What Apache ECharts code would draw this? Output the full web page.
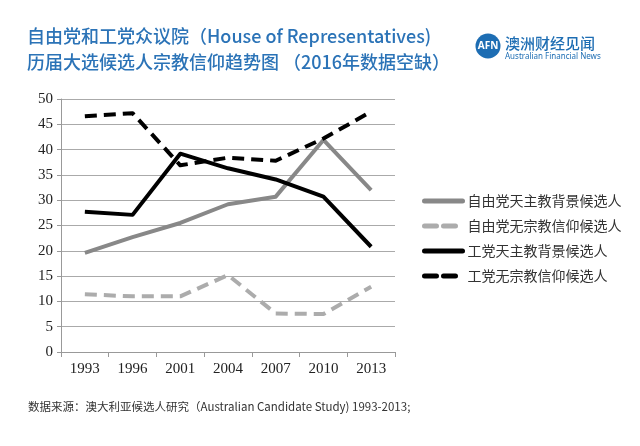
<!DOCTYPE html>
<html>
<head>
<meta charset="utf-8">
<script src="https://cdn.jsdelivr.net/npm/echarts@6/dist/echarts.min.js"></script>
<style>
  html, body { margin: 0; padding: 0; background: #fff; }
  #main { width: 640px; height: 446px; }
</style>
</head>
<body>
<div id="main"></div>
<script>
// 年份
var years = ['1993', '1996', '2001', '2004', '2007', '2010', '2013'];
// 各系列数据 (%)
var libCatholic = [19.6, 22.7, 25.5, 29.2, 30.7, 41.9, 32.0];
var libNoReligion = [11.4, 11.0, 11.0, 15.2, 7.6, 7.5, 12.9];
var labCatholic = [27.7, 27.1, 39.2, 36.3, 34.1, 30.7, 20.8];
var labNoReligion = [46.6, 47.2, 36.9, 38.4, 37.8, 42.2, 47.5];
var seriesNames = ['自由党天主教背景候选人', '自由党无宗教信仰候选人', '工党天主教背景候选人', '工党无宗教信仰候选人'];

var cjk = '"Noto Sans CJK SC", "Noto Sans", sans-serif';
var serif = '"Liberation Serif", "DejaVu Serif", serif';
var dash = [12, 7];

function mkLine(name, data, color, dashed) {
    return {
        name: name,
        type: 'line',
        data: data,
        symbol: 'none',
        smooth: false,
        lineStyle: { color: color, width: 4, type: dashed ? dash : 'solid', cap: 'butt', join: 'round' },
        itemStyle: { color: color },
        emphasis: { disabled: true }
    };
}

var chart = echarts.init(document.getElementById('main'));
chart.setOption({
    backgroundColor: '#fff',
    animation: false,
    title: {
        text: '自由党和工党众议院（House of Representatives)\n历届大选候选人宗教信仰趋势图 （2016年数据空缺）',
        left: 22,
        top: 18,
        textStyle: { fontFamily: cjk, fontSize: 18, fontWeight: 500, color: '#2b73b7', lineHeight: 26 }
    },
    grid: { left: 61, right: 245, top: 99, bottom: 94 },
    legend: {
        orient: 'vertical',
        left: 417,
        top: 189,
        itemWidth: 38,
        itemHeight: 14,
        itemGap: 11,
        data: seriesNames,
        itemStyle: { opacity: 0 },
        lineStyle: { width: 5, cap: 'round' },
        textStyle: { fontFamily: cjk, fontSize: 14, color: '#333' }
    },
    xAxis: {
        type: 'category',
        data: years,
        boundaryGap: true,
        axisLine: { lineStyle: { color: '#999', width: 1 } },
        axisTick: { show: true, length: 5, lineStyle: { color: '#999' } },
        axisLabel: { fontFamily: serif, fontSize: 15, color: '#222', margin: 10 }
    },
    yAxis: {
        type: 'value',
        min: 0,
        max: 50,
        interval: 5,
        axisLine: { show: true, lineStyle: { color: '#999' } },
        axisTick: { show: true, length: 4, lineStyle: { color: '#999' } },
        splitLine: { lineStyle: { color: '#aaa', width: 1 } },
        axisLabel: { fontFamily: serif, fontSize: 15, color: '#222', margin: 8 }
    },
    series: [
        mkLine(seriesNames[0], libCatholic, '#888888', false),
        mkLine(seriesNames[1], libNoReligion, '#acacac', true),
        mkLine(seriesNames[2], labCatholic, '#000000', false),
        mkLine(seriesNames[3], labNoReligion, '#000000', true)
    ],
    graphic: [
        // 标志
        { type: 'circle', shape: { cx: 488, cy: 46, r: 12.5 }, style: { fill: '#1d6db3' } },
        { type: 'text', x: 488, y: 46, style: { text: 'AFN', fill: '#fff', font: 'bold 10px "Noto Sans", sans-serif', align: 'center', verticalAlign: 'middle' } },
        { type: 'text', x: 505, y: 43, style: { text: '澳洲财经见闻', fill: '#1d6db3', font: '500 15px "Noto Sans CJK SC", sans-serif', verticalAlign: 'middle' } },
        { type: 'text', x: 505, y: 57, style: { text: 'Australian Financial News', fill: '#1d6db3', font: '8px "Noto Sans", sans-serif', verticalAlign: 'middle' } },
        // 数据来源
        { type: 'text', x: 28, y: 407, style: { text: '数据来源：澳大利亚候选人研究（Australian Candidate Study) 1993-2013;', fill: '#333', font: '11.5px "Noto Sans CJK SC", sans-serif', verticalAlign: 'middle' } }
    ]
});
</script>
</body>
</html>
